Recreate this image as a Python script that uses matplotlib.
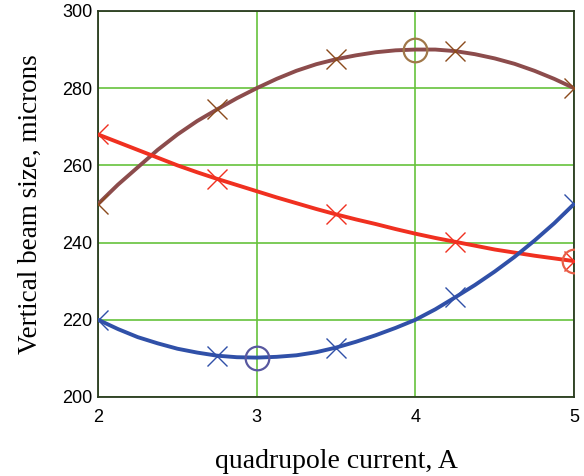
import matplotlib.pyplot as plt
import numpy as np

# curve samples
current = [2.0, 2.125, 2.25, 2.375, 2.5, 2.625, 2.75, 2.875, 3.0, 3.125, 3.25, 3.375, 3.5,
           3.625, 3.75, 3.875, 4.0, 4.125, 4.25, 4.375, 4.5, 4.625, 4.75, 4.875, 5.0]
brown_size = [250, 255, 259.5, 264, 268, 271.5, 274.5, 277.4, 280, 282.4, 284.5, 286.2, 287.5,
              288.5, 289.3, 289.8, 290, 290, 289.6, 288.8, 287.7, 286.3, 284.5, 282.4, 280]
red_size = [268, 266, 264, 262, 260, 258.2, 256.5, 254.9, 253.3, 251.7, 250.2, 248.7, 247.3,
            246, 244.8, 243.5, 242.3, 241.2, 240.2, 239.2, 238.2, 237.4, 236.6, 235.9, 235.2]
blue_size = [220, 217.6, 215.5, 213.9, 212.5, 211.5, 210.7, 210.3, 210.2, 210.4, 210.8, 211.6, 212.8,
             214.3, 216, 217.9, 220, 222.7, 225.8, 229, 232.5, 236.3, 240.5, 245, 250]

# x markers at 2, 2.75, 3.5, 4.25, 5
mark_idx = [0, 6, 12, 18, 24]

# circled optimum points
brown_opt = (4.0, 290)
red_opt = (5.0, 235.2)
blue_opt = (3.0, 210.2)

x_ticks = [2, 3, 4, 5]
y_ticks = [200, 220, 240, 260, 280, 300]

fig = plt.figure(figsize=(5.84, 4.76), dpi=100)
ax = fig.add_axes([0.168, 0.166, 0.815, 0.811])

series = [
    (brown_size, '#8C4C4C', '#8B4A1C', brown_opt, '#A0784A'),
    (red_size, '#F03020', '#F03020', red_opt, '#E86048'),
    (blue_size, '#3050A8', '#3050A8', blue_opt, '#5858A0'),
]
for vals, lc, mc, opt, cc in series:
    ax.plot(current, vals, color=lc, lw=2.8, zorder=3, solid_capstyle='round')
    ax.plot([current[i] for i in mark_idx], [vals[i] for i in mark_idx],
            ls='none', marker='x', ms=14, mew=1.0, color=mc, zorder=4)
    ax.plot([opt[0]], [opt[1]], ls='none', marker='o', ms=17, mfc='none',
            mec=cc, mew=1.6, zorder=5)

ax.set_xlim(2, 5)
ax.set_ylim(200, 300)
ax.set_xticks(x_ticks)
ax.set_yticks(y_ticks)
ax.grid(True, color='#66C23C', lw=1.2)
ax.set_axisbelow(True)
ax.tick_params(length=0, labelsize=13)
ax.tick_params(axis='x', pad=9)
ax.tick_params(axis='y', pad=4)
for lab in ax.get_xticklabels() + ax.get_yticklabels():
    lab.set_family('Liberation Sans')
for s in ax.spines.values():
    s.set_color('#2A3A20')
    s.set_linewidth(1.3)

ax.set_xlabel('quadrupole current, A', family='Liberation Serif', fontsize=20, labelpad=16)
ax.set_ylabel('Vertical beam size, microns', family='Liberation Serif', fontsize=19.5, labelpad=14)

fig.savefig('out.png', dpi=100)
